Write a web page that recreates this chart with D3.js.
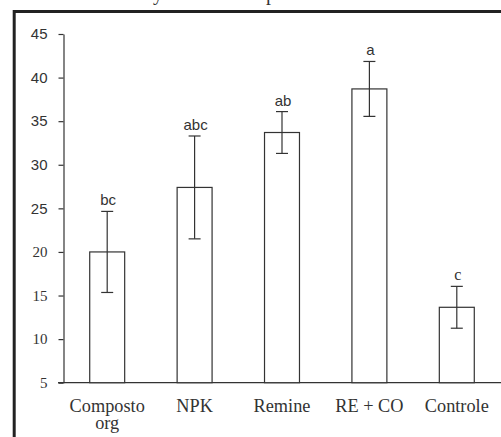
<!DOCTYPE html>
<html>
<head>
<meta charset="utf-8">
<script src="https://cdn.jsdelivr.net/npm/d3@7"></script>
<style>
  html, body { margin: 0; padding: 0; background: #fff; }
  svg { display: block; }
</style>
</head>
<body>
<svg id="chart" width="501" height="437"></svg>
<script>
// ---- data ----
const categories = ["Composto\norg", "NPK", "Remine", "RE + CO", "Controle"];
const means      = [20.0, 27.4, 33.7, 38.7, 13.65];
const errors     = [4.65, 5.9, 2.4, 3.15, 2.4];
const letters    = ["bc", "abc", "ab", "a", "c"];
const letterSerif = [false, false, false, false, true];
const yTicks     = [5, 10, 15, 20, 25, 30, 35, 40, 45];
const yTickSerif = [true, true, true, true, false, false, false, false, false];

const svg = d3.select("#chart");
const ink = "#333";
const sans = "'Liberation Sans', Arial, sans-serif";
const serif = "'Liberation Serif', 'Times New Roman', serif";

// ---- frame (cropped page border) ----
svg.append("line").attr("x1", 13).attr("x2", 501).attr("y1", 11.5).attr("y2", 11.5)
  .attr("stroke", "#222").attr("stroke-width", 3);
svg.append("line").attr("x1", 14.2).attr("x2", 14.2).attr("y1", 10).attr("y2", 437)
  .attr("stroke", "#222").attr("stroke-width", 3);
// cropped caption descenders
svg.append("text").attr("x", 153).attr("y", 0).attr("font-family", serif)
  .attr("font-size", 20).attr("fill", ink).text("y");
svg.append("text").attr("x", 266).attr("y", 0).attr("font-family", serif)
  .attr("font-size", 20).attr("fill", ink).text("p");

// ---- scales ----
const y = d3.scaleLinear().domain([5, 45]).range([382.7, 34]);
const x = d3.scaleBand().domain(categories).range([63.5, 500.5])
  .paddingInner(0.6).paddingOuter(0.3);

// ---- y axis ----
const yAxis = svg.append("g").attr("transform", "translate(63.5,0)")
  .call(d3.axisLeft(y).tickValues(yTicks).tickSize(5).tickPadding(11).tickSizeOuter(0));
yAxis.select(".domain").attr("stroke", ink).attr("stroke-width", 1.2);
yAxis.selectAll(".tick line").attr("stroke", ink).attr("stroke-width", 1.2);
yAxis.selectAll(".tick text")
  .attr("fill", ink)
  .attr("font-size", 15)
  .attr("font-family", (d, i) => yTickSerif[i] ? serif : sans);

// ---- x axis baseline ----
svg.append("line").attr("x1", 58).attr("x2", 501)
  .attr("y1", y(5)).attr("y2", y(5))
  .attr("stroke", ink).attr("stroke-width", 1.2);

// ---- bars ----
const idx = d3.range(categories.length);
svg.append("g").selectAll("rect").data(idx).join("rect")
  .attr("x", i => x(categories[i]))
  .attr("width", x.bandwidth())
  .attr("y", i => y(means[i]))
  .attr("height", i => y(5) - y(means[i]))
  .attr("fill", "#fff").attr("stroke", ink).attr("stroke-width", 1.2);

// ---- error bars ----
const cx = i => x(categories[i]) + x.bandwidth() / 2;
const eb = svg.append("g").attr("stroke", ink).attr("stroke-width", 1.2);
eb.selectAll("line.v").data(idx).join("line").attr("class", "v")
  .attr("x1", cx).attr("x2", cx)
  .attr("y1", i => y(means[i] + errors[i])).attr("y2", i => y(means[i] - errors[i]));
eb.selectAll("line.t").data(idx).join("line").attr("class", "t")
  .attr("x1", i => cx(i) - 6).attr("x2", i => cx(i) + 6)
  .attr("y1", i => y(means[i] + errors[i])).attr("y2", i => y(means[i] + errors[i]));
eb.selectAll("line.b").data(idx).join("line").attr("class", "b")
  .attr("x1", i => cx(i) - 6).attr("x2", i => cx(i) + 6)
  .attr("y1", i => y(means[i] - errors[i])).attr("y2", i => y(means[i] - errors[i]));

// ---- significance letters ----
svg.append("g").selectAll("text").data(idx).join("text")
  .attr("x", i => cx(i) + 1)
  .attr("y", i => y(means[i] + errors[i]) - 6)
  .attr("text-anchor", "middle")
  .attr("fill", ink)
  .attr("font-family", i => letterSerif[i] ? serif : sans)
  .attr("font-size", i => letterSerif[i] ? 16 : 15)
  .text(i => letters[i]);

// ---- category labels ----
const xl = svg.append("g").selectAll("text").data(idx).join("text")
  .attr("x", cx)
  .attr("y", y(5) + 29)
  .attr("text-anchor", "middle")
  .attr("fill", ink)
  .attr("font-family", serif)
  .attr("font-size", 18.3);
xl.each(function(i) {
  const parts = categories[i].split("\n");
  d3.select(this).selectAll("tspan").data(parts).join("tspan")
    .attr("x", cx(i))
    .attr("dy", (d, j) => j === 0 ? 0 : 17.5)
    .text(d => d);
});
</script>
</body>
</html>
